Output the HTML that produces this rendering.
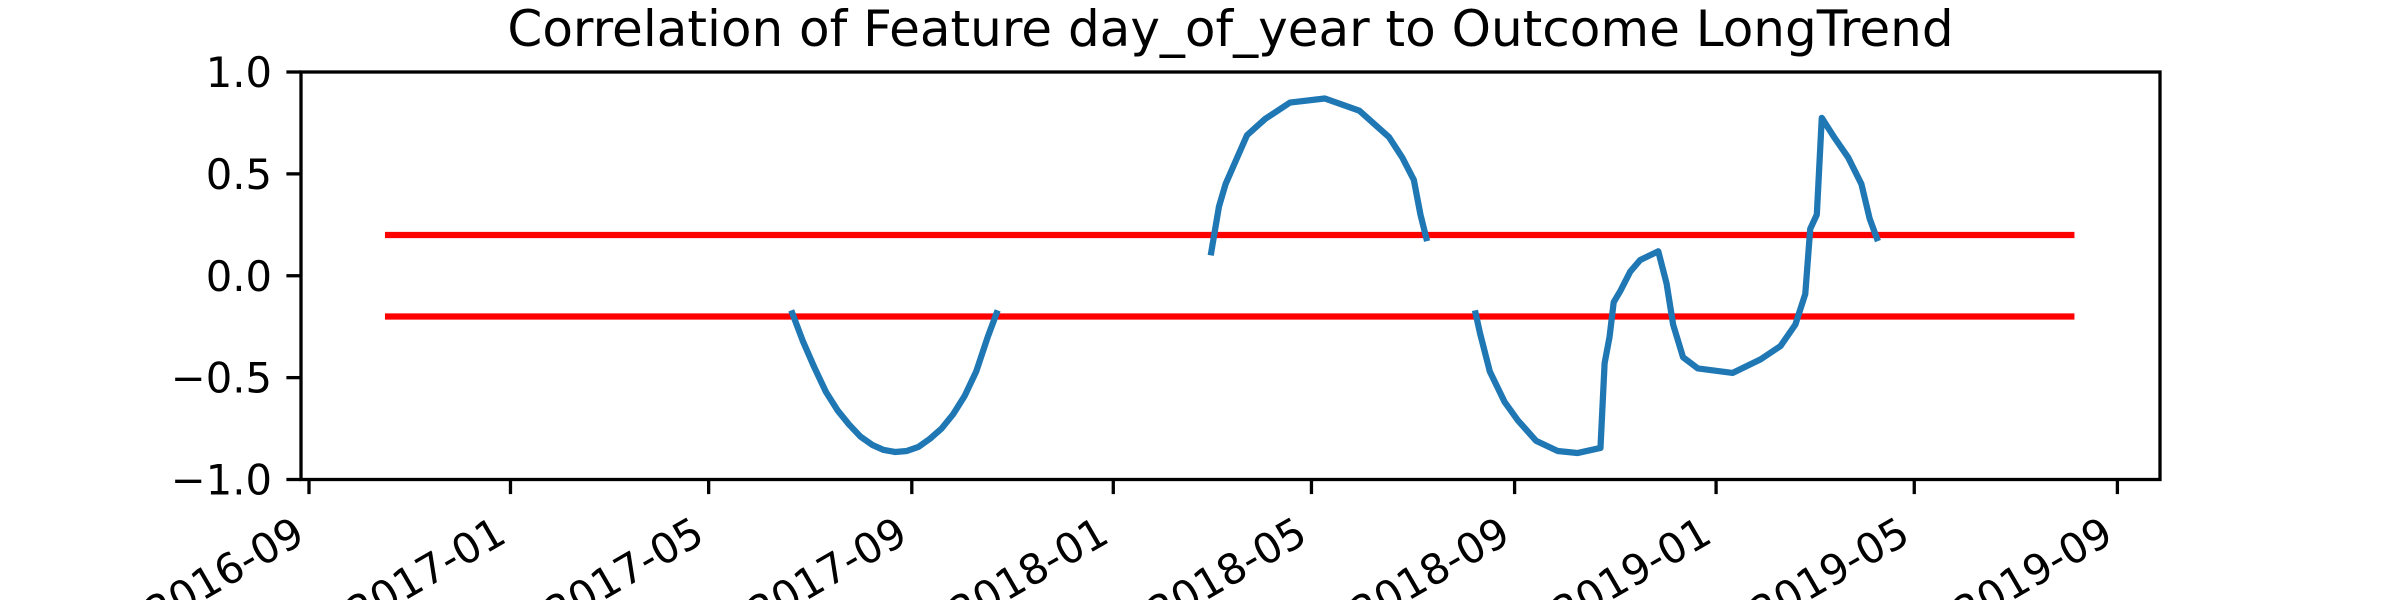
<!DOCTYPE html>
<html><head><meta charset="utf-8"><style>
html,body{margin:0;padding:0;background:#fff;width:2400px;height:600px;overflow:hidden;}
svg{display:block;font-family:"DejaVu Sans","Liberation Sans",sans-serif;overflow:hidden;}
</style></head><body>
<svg id="chart" width="2400" height="600" viewBox="0 0 2400 600">
<rect width="2400" height="600" fill="#fff"/>
<text x="1230.5" y="46" font-size="50" text-anchor="middle">Correlation of Feature day_of_year to Outcome LongTrend</text>
<g id="plot"></g>
</svg>
<script>
// days since 2016-09-01
const seg1Days = [292,299,306,313,320,327,334,341,348,355,362,369,376,383,390,397,404,411,417];
const seg1Vals = [-0.17,-0.32,-0.45,-0.57,-0.66,-0.73,-0.79,-0.83,-0.855,-0.865,-0.86,-0.84,-0.80,-0.75,-0.68,-0.59,-0.47,-0.30,-0.17];
const seg2Days = [546,551,555,562,568,579,594,615,636,654,662,669,673,677];
const seg2Vals = [0.10,0.34,0.45,0.58,0.69,0.77,0.85,0.87,0.81,0.68,0.58,0.47,0.30,0.17];
const seg3Days = [706,709,715,724,732,743,756,768,782,784.5,787.5,790,794,800,806,817,822,826,832,841,862,879,891,900,906,909,913,916,923,932,940,945,950];
const seg3Vals = [-0.17,-0.28,-0.47,-0.62,-0.71,-0.81,-0.86,-0.87,-0.845,-0.43,-0.30,-0.13,-0.075,0.02,0.077,0.12,-0.037,-0.24,-0.40,-0.455,-0.477,-0.41,-0.345,-0.24,-0.09,0.23,0.30,0.775,0.686,0.58,0.45,0.28,0.17];
const thresholdVals = [0.2,-0.2];
const thresholdDays = [46,1069];
const xTickDays = [0,122,242,365,487,607,730,852,972,1095];
const xTickLabels = ["2016-09","2017-01","2017-05","2017-09","2018-01","2018-05","2018-09","2019-01","2019-05","2019-09"];
const yTickVals = [1.0,0.5,0.0,-0.5,-1.0];
const yTickLabels = ["1.0","0.5","0.0","\u22120.5","\u22121.0"];

const L=301,R=2160,T=72,B=479.5;
const X=d=>309+d*1.6515;
const Y=v=>T+(1-v)*(B-T)/2;
const NS="http://www.w3.org/2000/svg";
const g=document.getElementById('plot');
function mk(tag,attrs){const e=document.createElementNS(NS,tag);for(const k in attrs)e.setAttribute(k,attrs[k]);g.appendChild(e);return e;}

thresholdVals.forEach((v,i)=>{
  const l=mk('line',{x1:X(thresholdDays[0]),x2:X(thresholdDays[1]),y1:Y(v),y2:Y(v),stroke:'#ff0000','stroke-width':6.25});
  
  
});
[[seg1Days,seg1Vals],[seg2Days,seg2Vals],[seg3Days,seg3Vals]].forEach(([ds,vs],i)=>{
  const p=mk('polyline',{points:ds.map((d,j)=>X(d)+','+Y(vs[j])).join(' '),fill:'none',stroke:'#1f77b4','stroke-width':6.25,'stroke-linejoin':'round'});
  
  
});
const frame=mk('rect',{x:L,y:T,width:R-L,height:B-T,fill:'none',stroke:'#000','stroke-width':3.3});


yTickVals.forEach((v,i)=>{
  const t=mk('line',{x1:L-14.6,x2:L,y1:Y(v),y2:Y(v),stroke:'#000','stroke-width':3.3});
  
  
  const s=mk('text',{x:L-29,y:Y(v)+15,'font-size':41.7,'text-anchor':'end'});
  s.textContent=yTickLabels[i];
  
  
});
xTickDays.forEach((d,i)=>{
  const t=mk('line',{x1:X(d),x2:X(d),y1:B,y2:B+14.6,stroke:'#000','stroke-width':3.3});
  
  
  const s=mk('text',{x:0,y:30,'font-size':41.7,'text-anchor':'end',transform:'translate('+(X(d)-17)+',515) rotate(-30)'});
  s.textContent=xTickLabels[i];
  
  
});
</script>
</body></html>
